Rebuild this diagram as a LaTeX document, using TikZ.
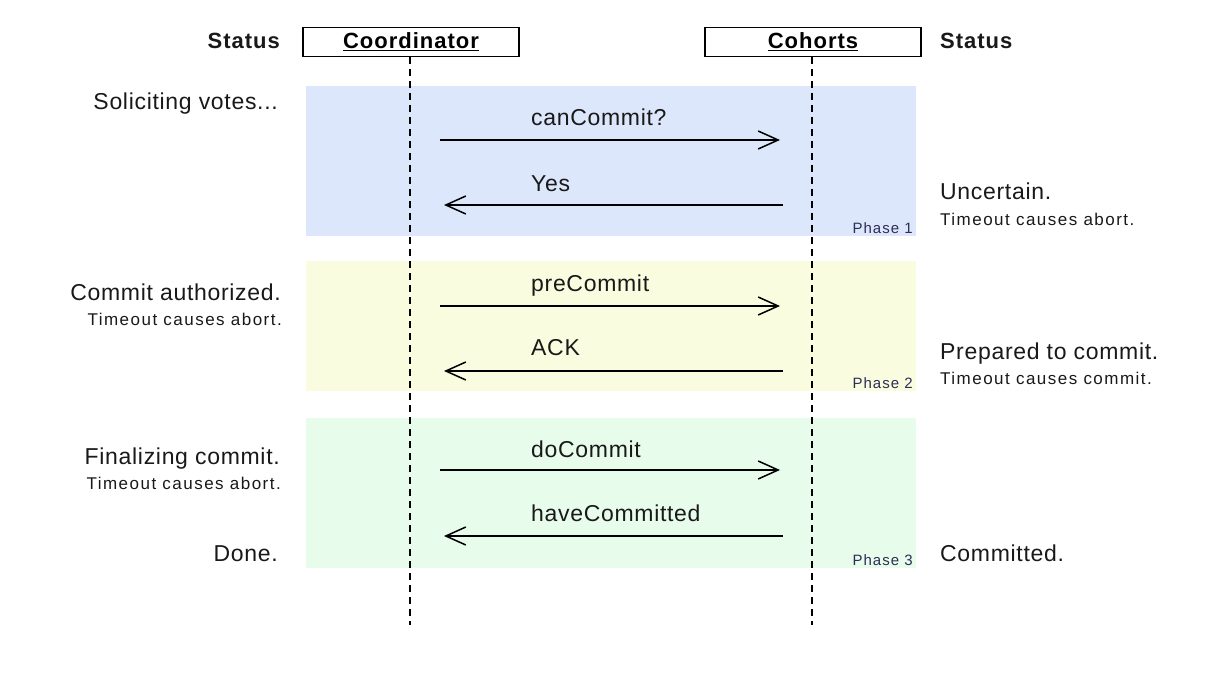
\documentclass[tikz,border=0pt]{standalone}
\usepackage{fontspec}
\setmainfont{Liberation Sans}
\newfontfamily\bigfont[LetterSpace=3]{Liberation Sans}
\newfontfamily\smallfont[LetterSpace=8.7]{Liberation Sans}
\newfontfamily\phasefont[LetterSpace=7]{Liberation Sans}
\newfontfamily\headfont[LetterSpace=4.5]{Liberation Sans Bold}
\usetikzlibrary{arrows.meta}
\definecolor{bandblue}{RGB}{221,231,252}
\definecolor{bandyellow}{RGB}{249,252,222}
\definecolor{bandgreen}{RGB}{232,252,236}
\definecolor{phasecol}{RGB}{45,45,85}
\definecolor{txt}{RGB}{25,25,25}
\begin{document}
\begin{tikzpicture}[x=1pt,y=-1pt,
  big/.style={font=\bigfont\fontsize{23}{26}\selectfont, text=txt, inner sep=0pt},
  small/.style={font=\smallfont\fontsize{17}{20}\selectfont, text=txt, inner sep=0pt},
  head/.style={font=\headfont\fontsize{22}{26}\selectfont, text=txt, inner sep=0pt},
  actor/.style={draw=black, line width=1.5pt, minimum width=216pt, minimum height=29pt, inner sep=0pt, font=\headfont\fontsize{22}{26}\selectfont},
  life/.style={dashed, dash pattern=on 7pt off 5pt, line width=1.3pt},
  msg/.style={line width=1.5pt, -{Straight Barb[length=20pt,width=18pt,line width=1.5pt]}},
  msglab/.style={font=\bigfont\fontsize{23}{26}\selectfont, text=txt, inner sep=0pt, anchor=base west},
  phase/.style={font=\phasefont\fontsize{15}{17}\selectfont, text=phasecol, inner sep=0pt, anchor=base east}
]
\useasboundingbox (0,0) rectangle (1222,674);
\fill[white] (0,0) rectangle (1222,674);
% bands
\fill[bandblue] (306,86) rectangle (916,236);
\fill[bandyellow] (306,261) rectangle (916,391);
\fill[bandgreen] (306,418) rectangle (916,568);
% actors
\node[actor] (coord) at (411,42) {\underline{Coordinator}};
\node[actor] (coh) at (813,42) {\underline{Cohorts}};
\coordinate (coordend) at (410,625);
\coordinate (cohend) at (812,625);
\draw[life] (coord.south -| coordend) -- (coordend);
\draw[life] (coh.south -| cohend) -- (cohend);
% status headers
\node[head, anchor=base east] (stl) at (280,49) {Status};
\node[head, anchor=base west] (str) at (940,49) {Status};
% messages
\coordinate (a1s) at (440,140); \coordinate (a1e) at (780,140);
\coordinate (a2s) at (783,205); \coordinate (a2e) at (444,205);
\coordinate (a3s) at (440,306); \coordinate (a3e) at (780,306);
\coordinate (a4s) at (783,371); \coordinate (a4e) at (444,371);
\coordinate (a5s) at (440,470); \coordinate (a5e) at (780,470);
\coordinate (a6s) at (783,536); \coordinate (a6e) at (444,536);
\draw[msg] (a1s) -- (a1e);
\draw[msg] (a2s) -- (a2e);
\draw[msg] (a3s) -- (a3e);
\draw[msg] (a4s) -- (a4e);
\draw[msg] (a5s) -- (a5e);
\draw[msg] (a6s) -- (a6e);
\node[msglab] (l1) at (531,125) {canCommit?};
\node[msglab] (l2) at (531,191) {Yes};
\node[msglab] (l3) at (531,291) {preCommit};
\node[msglab] (l4) at (531,355) {ACK};
\node[msglab] (l5) at (531,457) {doCommit};
\node[msglab] (l6) at (531,521) {haveCommitted};
% phase labels
\node[phase] (p1) at (913,233) {Phase 1};
\node[phase] (p2) at (913,388) {Phase 2};
\node[phase] (p3) at (913,565) {Phase 3};
% left status
\node[big, anchor=base east] (s1) at (278,110) {Soliciting votes...};
\node[big, anchor=base east] (s2) at (281,300) {Commit authorized.};
\node[small, anchor=base east] (s2b) at (282,325) {Timeout causes abort.};
\node[big, anchor=base east] (s3) at (280,464) {Finalizing commit.};
\node[small, anchor=base east] (s3b) at (281,489) {Timeout causes abort.};
\node[big, anchor=base east] (s4) at (278,561) {Done.};
% right status
\node[big, anchor=base west] (r1) at (940,199) {Uncertain.};
\node[small, anchor=base west] (r1b) at (940,225) {Timeout causes abort.};
\node[big, anchor=base west] (r2) at (940,359) {Prepared to commit.};
\node[small, anchor=base west] (r2b) at (940,384) {Timeout causes commit.};
\node[big, anchor=base west] (r3) at (940,561) {Committed.};
\end{tikzpicture}
\end{document}
